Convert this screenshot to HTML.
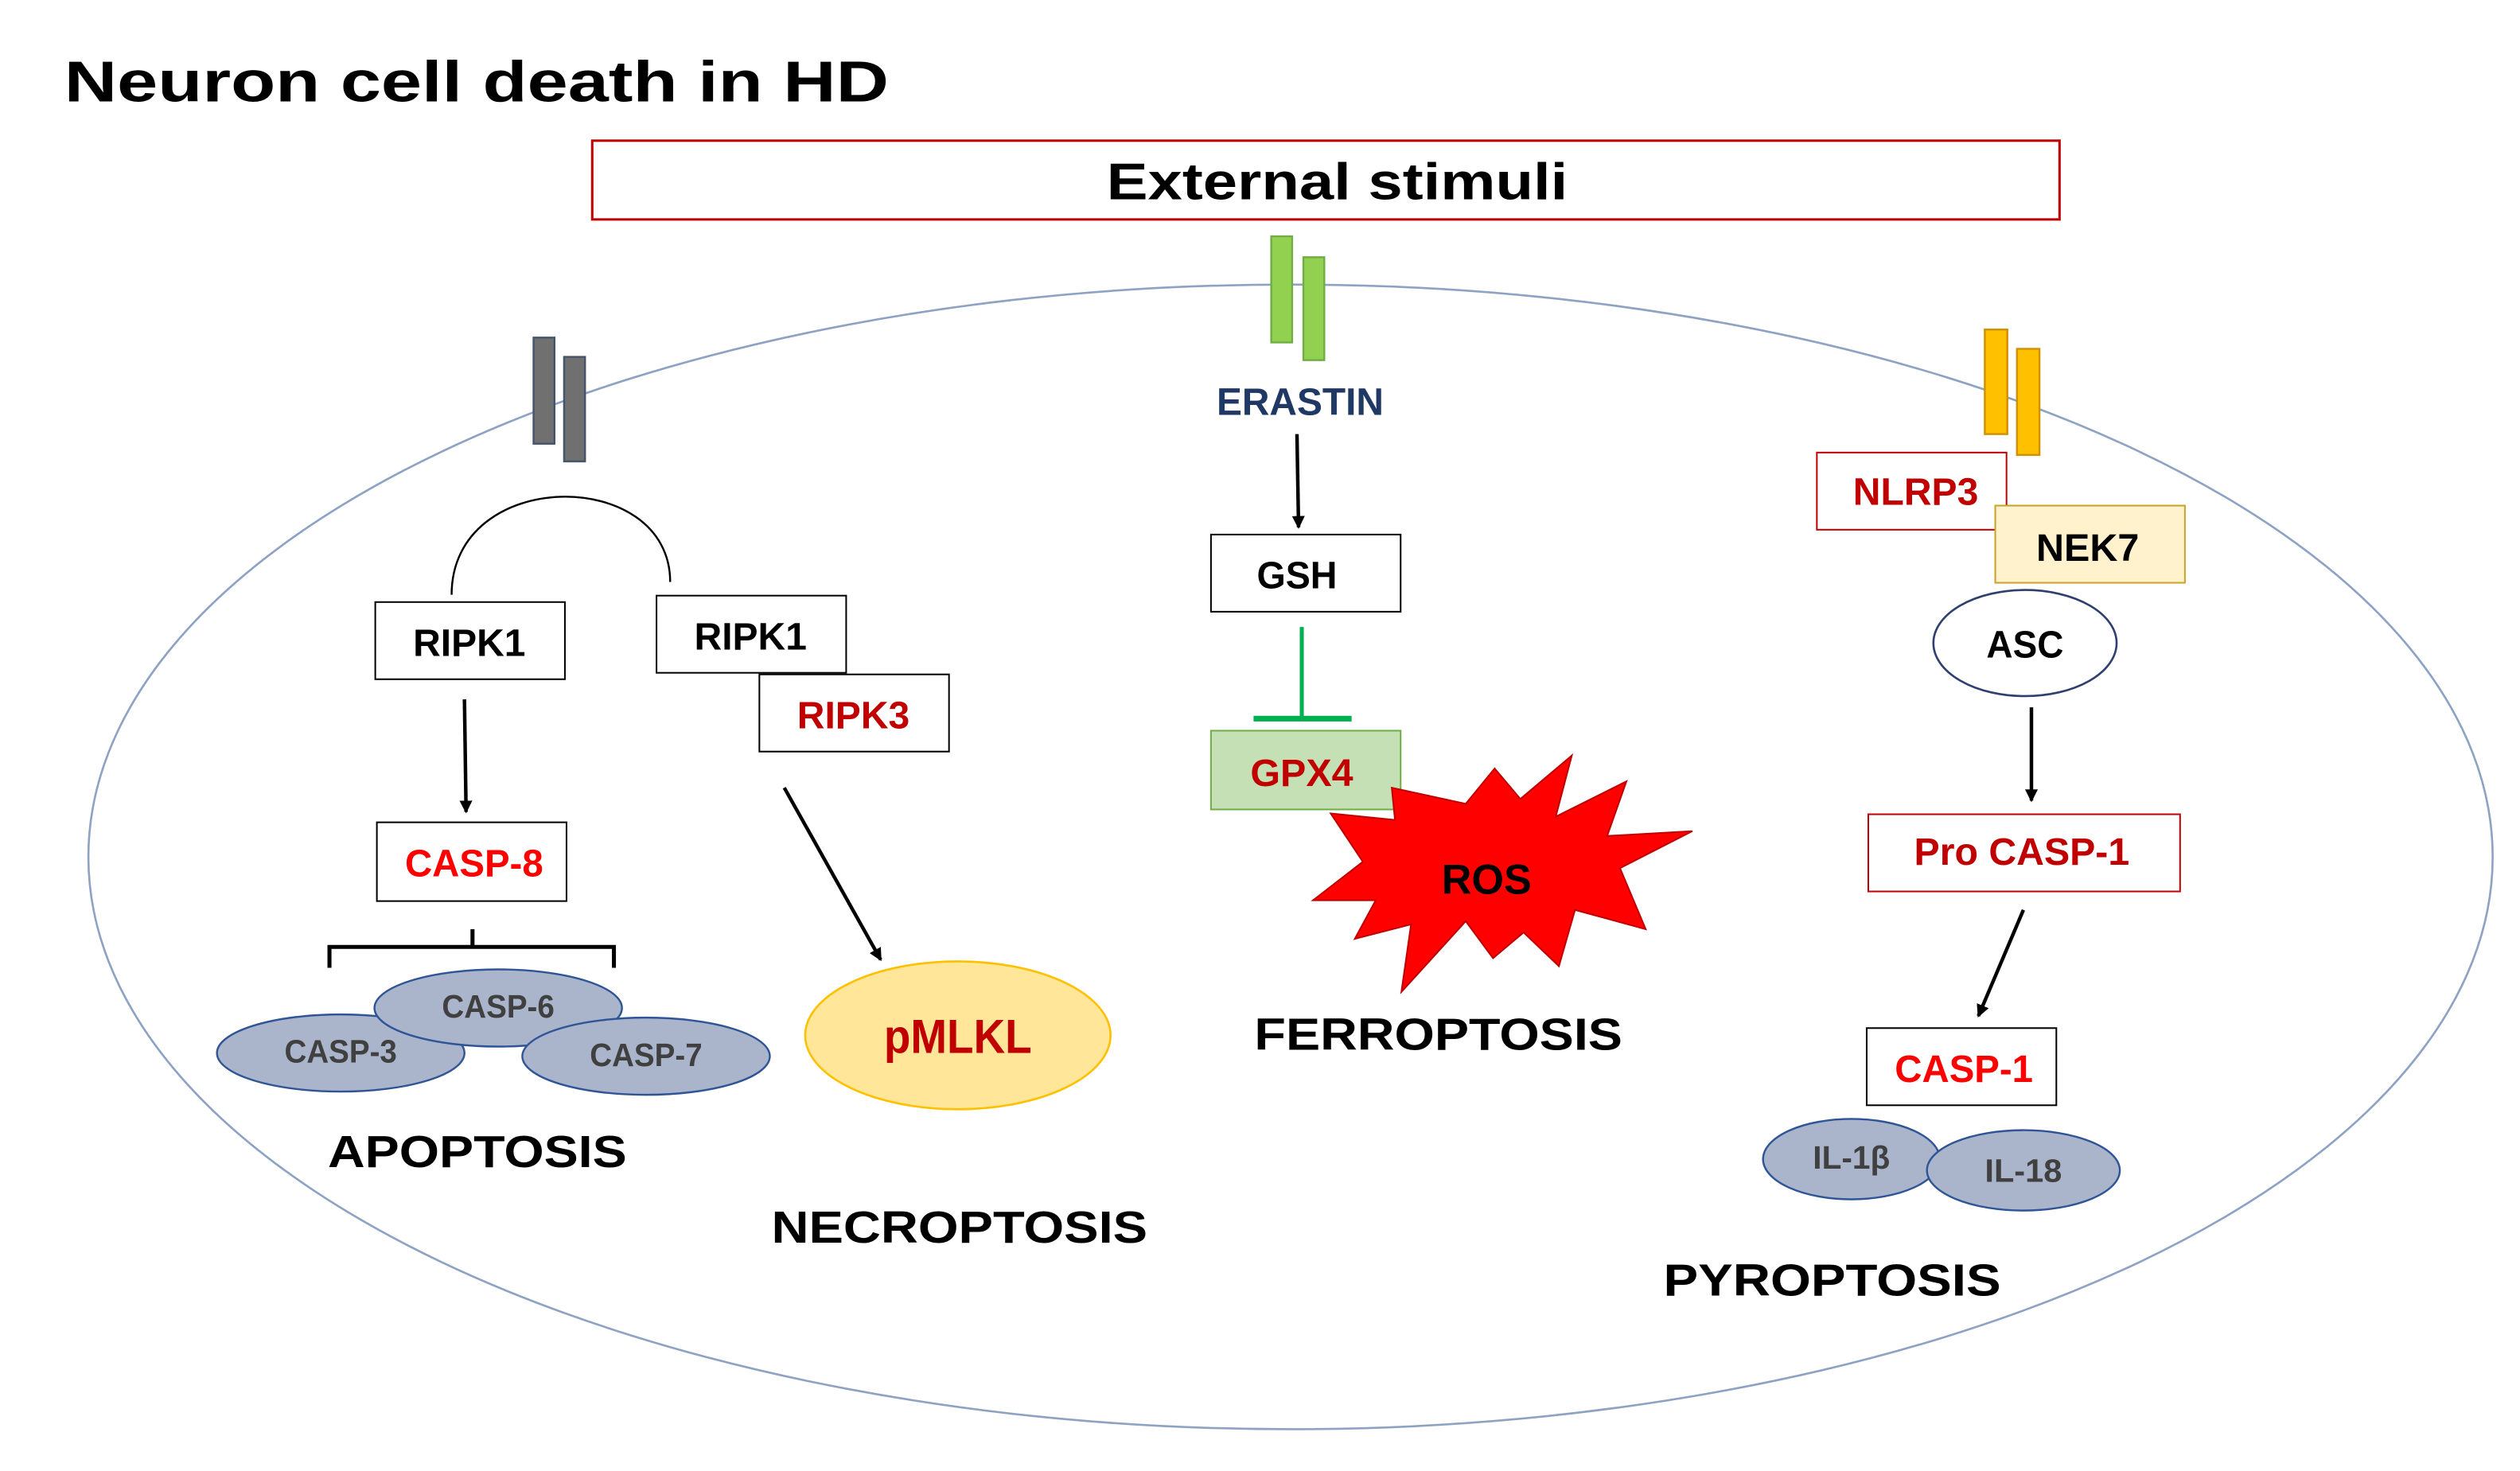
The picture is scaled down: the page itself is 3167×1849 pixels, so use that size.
<!DOCTYPE html>
<html><head><meta charset="utf-8"><style>html,body{margin:0;padding:0;background:#fff}svg{display:block}text{font-family:"Liberation Sans",Arial,sans-serif}</style></head>
<body>
<svg width="3167" height="1849" viewBox="0 0 1568 915" preserveAspectRatio="none" xmlns="http://www.w3.org/2000/svg">
<defs><marker id="ah" markerWidth="8" markerHeight="8" refX="7" refY="4" orient="auto" markerUnits="userSpaceOnUse"><path d="M0,0 L8,4 L0,8 Z" fill="#000"/></marker></defs>
<rect width="1568" height="915" fill="#fff"/>
<text x="40" y="63" font-size="36" font-weight="bold" textLength="513" lengthAdjust="spacingAndGlyphs">Neuron cell death in HD</text>
<ellipse cx="803" cy="533" rx="748" ry="356" fill="none" stroke="#8ea2c4" stroke-width="1.3"/>
<rect x="368.5" y="87.5" width="913" height="49" fill="#fff" stroke="#c00000" stroke-width="1.5"/>
<text x="832" y="124" font-size="32" font-weight="bold" text-anchor="middle" textLength="287" lengthAdjust="spacingAndGlyphs">External stimuli</text>
<g stroke-width="1.2">
<rect x="332" y="210" width="13" height="66" fill="#707070" stroke="#44546a"/>
<rect x="351" y="222" width="13" height="65" fill="#707070" stroke="#44546a"/>
<rect x="791" y="147" width="13" height="66" fill="#92d050" stroke="#70ad47"/>
<rect x="811" y="160" width="13" height="64" fill="#92d050" stroke="#70ad47"/>
<rect x="1235" y="205" width="14" height="65" fill="#ffc000" stroke="#d09000"/>
<rect x="1255" y="217" width="14" height="66" fill="#ffc000" stroke="#d09000"/>
</g>
<path d="M281,370 C281,290 417,290 417,362" fill="none" stroke="#000" stroke-width="1.2"/>
<g font-size="24" text-anchor="middle" font-weight="bold">
<rect x="233.5" y="374.5" width="118" height="48" fill="#fff" stroke="#000"/>
<text x="292" y="408" textLength="70" lengthAdjust="spacingAndGlyphs">RIPK1</text>
<rect x="408.5" y="370.5" width="118" height="48" fill="#fff" stroke="#000"/>
<text x="467" y="404" textLength="70" lengthAdjust="spacingAndGlyphs">RIPK1</text>
<rect x="472.5" y="419.5" width="118" height="48" fill="#fff" stroke="#000"/>
<text x="531" y="453" fill="#c00000" textLength="70" lengthAdjust="spacingAndGlyphs">RIPK3</text>
<rect x="234.5" y="511.5" width="118" height="49" fill="#fff" stroke="#000"/>
<text x="295" y="545" fill="#ff0000" textLength="86" lengthAdjust="spacingAndGlyphs">CASP-8</text>
<rect x="753.5" y="332.5" width="118" height="48" fill="#fff" stroke="#000"/>
<text x="807" y="366" textLength="50" lengthAdjust="spacingAndGlyphs">GSH</text>
<rect x="753.5" y="454.5" width="118" height="49" fill="#c5e0b4" stroke="#70ad47"/>
<text x="810" y="489" fill="#c00000" textLength="64" lengthAdjust="spacingAndGlyphs">GPX4</text>
<rect x="1130.5" y="281.5" width="118" height="48" fill="#fff" stroke="#c00000"/>
<text x="1192" y="314" fill="#c00000" textLength="78" lengthAdjust="spacingAndGlyphs">NLRP3</text>
<rect x="1241.5" y="314.5" width="118" height="48" fill="#fff2cc" stroke="#c9a227"/>
<text x="1299" y="349" textLength="64" lengthAdjust="spacingAndGlyphs">NEK7</text>
<ellipse cx="1260" cy="400" rx="57" ry="33" fill="#fff" stroke="#2f3f6f" stroke-width="1.3"/>
<text x="1260" y="409" textLength="48" lengthAdjust="spacingAndGlyphs">ASC</text>
<rect x="1162.5" y="506.5" width="194" height="48" fill="#fff" stroke="#c00000"/>
<text x="1258" y="538" fill="#c00000" textLength="134" lengthAdjust="spacingAndGlyphs">Pro CASP-1</text>
<rect x="1161.5" y="639.5" width="118" height="48" fill="#fff" stroke="#000"/>
<text x="1222" y="673" fill="#ff0000" textLength="86" lengthAdjust="spacingAndGlyphs">CASP-1</text>
<text x="809" y="258" fill="#1f3864" textLength="104" lengthAdjust="spacingAndGlyphs">ERASTIN</text>
</g>
<g stroke="#000" stroke-width="2.2" marker-end="url(#ah)">
<line x1="289" y1="435" x2="290" y2="505"/>
<line x1="488" y1="490" x2="548" y2="597"/>
<line x1="807" y1="270" x2="808" y2="328"/>
<line x1="1264" y1="440" x2="1264" y2="498"/>
<line x1="1259" y1="566" x2="1231" y2="632"/>
</g>
<path d="M205,602 V589 H382 V602 M294,589 V578" fill="none" stroke="#000" stroke-width="2.5"/>
<line x1="810" y1="390" x2="810" y2="447" stroke="#00b050" stroke-width="2.5"/>
<line x1="780" y1="447" x2="841" y2="447" stroke="#00b050" stroke-width="3.5"/>
<g fill="#aab5cb" stroke="#2f5597" stroke-width="1.2">
<ellipse cx="212" cy="655" rx="77" ry="24"/>
<ellipse cx="310" cy="627" rx="77" ry="24"/>
<ellipse cx="402" cy="657" rx="77" ry="24"/>
<ellipse cx="1152" cy="721" rx="55" ry="25"/>
<ellipse cx="1259" cy="728" rx="60" ry="25"/>
</g>
<g font-size="20" fill="#404040" text-anchor="middle" font-weight="bold">
<text x="212" y="661" textLength="70" lengthAdjust="spacingAndGlyphs">CASP-3</text>
<text x="310" y="633" textLength="70" lengthAdjust="spacingAndGlyphs">CASP-6</text>
<text x="402" y="663" textLength="70" lengthAdjust="spacingAndGlyphs">CASP-7</text>
<text x="1152" y="727" textLength="48" lengthAdjust="spacingAndGlyphs">IL-1β</text>
<text x="1259" y="735" textLength="48" lengthAdjust="spacingAndGlyphs">IL-18</text>
</g>
<ellipse cx="596" cy="644" rx="95" ry="46" fill="#ffe699" stroke="#ffc000" stroke-width="1.3"/>
<text x="596" y="655" font-size="30" fill="#c00000" text-anchor="middle" font-weight="bold" textLength="92" lengthAdjust="spacingAndGlyphs">pMLKL</text>
<polygon points="978,470 968,508 1012,486 1000,520 1053,517 1008,540 1024,578 980,566 970,601 948,580 929,596 912,573 872,617 878,575 843,584 856,560 817,560 848,536 828,506 868,510 866,490 912,500 930,478 946,497" fill="#ff0000" stroke="#c00000" stroke-width="1"/>
<text x="925" y="556" font-size="26" text-anchor="middle" font-weight="bold" textLength="56" lengthAdjust="spacingAndGlyphs">ROS</text>
<g font-size="28" font-weight="bold" text-anchor="middle">
<text x="297" y="726" textLength="186" lengthAdjust="spacingAndGlyphs">APOPTOSIS</text>
<text x="597" y="773" textLength="234" lengthAdjust="spacingAndGlyphs">NECROPTOSIS</text>
<text x="895" y="653" textLength="229" lengthAdjust="spacingAndGlyphs">FERROPTOSIS</text>
<text x="1140" y="806" textLength="210" lengthAdjust="spacingAndGlyphs">PYROPTOSIS</text>
</g>
</svg>
</body></html>
